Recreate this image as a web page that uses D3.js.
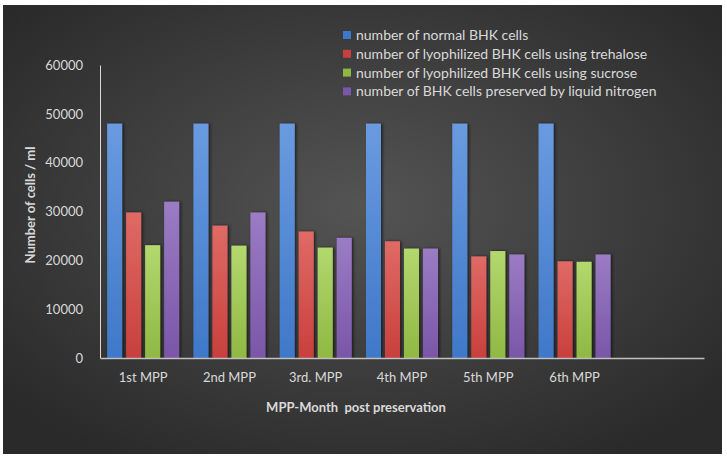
<!DOCTYPE html>
<html>
<head>
<meta charset="utf-8">
<script src="https://cdn.jsdelivr.net/npm/d3@7"></script>
<style>
  body { margin: 0; background: #fff; }
  svg { display: block; }
</style>
</head>
<body>
<svg width="727" height="457"></svg>
<script>
var categories = ["1st MPP", "2nd MPP", "3rd. MPP", "4th MPP", "5th MPP", "6th MPP", ""];
var seriesNames = [
  "number of normal BHK cells",
  "number of lyophilized BHK cells using trehalose",
  "number of lyophilized BHK cells using sucrose",
  "number of BHK cells preserved by liquid nitrogen"
];
var normal = [48000, 48000, 48000, 48000, 48000, 48000];
var trehalose = [29800, 27100, 25900, 23900, 20800, 19800];
var sucrose = [23100, 23000, 22600, 22400, 21900, 19700];
var nitrogen = [32000, 29800, 24600, 22400, 21200, 21200];
var yTicks = [0, 10000, 20000, 30000, 40000, 50000, 60000];

var seriesValues = [normal, trehalose, sucrose, nitrogen];
var colorsTop = ["#6a9be0", "#e06a66", "#b3d86e", "#9a7cc4"];
var colorsBottom = ["#3f78c8", "#c8403c", "#8fb843", "#7a56a8"];

var svg = d3.select("svg"),
    width = +svg.attr("width"),
    height = +svg.attr("height");

var defs = svg.append("defs");

// background gradient
var bg = defs.append("radialGradient")
    .attr("id", "bg")
    .attr("cx", "50%").attr("cy", "45%").attr("r", "65%");
bg.append("stop").attr("offset", "0%").attr("stop-color", "#545454");
bg.append("stop").attr("offset", "100%").attr("stop-color", "#2a2a2a");

seriesValues.forEach(function(s, i) {
  var g = defs.append("linearGradient")
      .attr("id", "bar" + i)
      .attr("x1", 0).attr("y1", 0).attr("x2", 0).attr("y2", 1);
  g.append("stop").attr("offset", "0%").attr("stop-color", colorsTop[i]);
  g.append("stop").attr("offset", "100%").attr("stop-color", colorsBottom[i]);
});

var shadow = defs.append("filter").attr("id", "shadow")
    .attr("x", "-30%").attr("y", "-10%").attr("width", "160%").attr("height", "120%");
shadow.append("feDropShadow")
    .attr("dx", 1.5).attr("dy", 0).attr("stdDeviation", 1.5)
    .attr("flood-color", "#000").attr("flood-opacity", 0.6);

svg.append("rect")
    .attr("x", 3).attr("y", 5)
    .attr("width", 719).attr("height", 449)
    .attr("fill", "url(#bg)");

var margin = {left: 100, right: 23, top: 65, bottom: 99};

var x0 = d3.scaleBand()
    .domain(categories)
    .range([margin.left, width - margin.right])
    .padding(0);

var x1 = d3.scaleBand()
    .domain(d3.range(seriesNames.length))
    .range([0, x0.bandwidth()])
    .paddingInner(0.21)
    .paddingOuter(0.375);

var y = d3.scaleLinear()
    .domain([0, 60000])
    .range([height - margin.bottom, margin.top]);

// bars
var groups = svg.append("g")
    .selectAll("g")
    .data(categories.slice(0, normal.length))
    .enter().append("g")
      .attr("transform", function(d) { return "translate(" + x0(d) + ",0)"; });

groups.selectAll("rect")
    .data(function(d, ci) {
      return seriesValues.map(function(s, si) { return {si: si, v: s[ci]}; });
    })
    .enter().append("rect")
      .attr("x", function(d) { return x1(d.si); })
      .attr("y", function(d) { return y(d.v); })
      .attr("width", x1.bandwidth())
      .attr("height", function(d) { return y(0) - y(d.v); })
      .attr("fill", function(d) { return "url(#bar" + d.si + ")"; })
      .attr("filter", "url(#shadow)");

// y axis
var yAxis = svg.append("g")
    .attr("transform", "translate(" + margin.left + ",0)")
    .call(d3.axisLeft(y).tickValues(yTicks).tickSize(0).tickPadding(17).tickFormat(d3.format("d")));
yAxis.select(".domain").attr("stroke", "#d9d9d9").attr("stroke-width", 1);
yAxis.selectAll("text")
    .attr("fill", "#d9d9d9")
    .style("font-family", "Lato, 'Open Sans', sans-serif")
    .style("font-size", "13px");

// x axis
var xAxis = svg.append("g")
    .attr("transform", "translate(0," + y(0) + ")")
    .call(d3.axisBottom(x0).tickSize(0).tickPadding(15));
xAxis.select(".domain").attr("stroke", "#bfbfbf").attr("stroke-width", 1.5);
xAxis.selectAll("text")
    .attr("fill", "#d9d9d9")
    .style("font-family", "Lato, 'Open Sans', sans-serif")
    .style("font-size", "13px");

// axis titles
svg.append("text")
    .attr("transform", "translate(35," + 205 + ") rotate(-90)")
    .attr("text-anchor", "middle")
    .attr("fill", "#d9d9d9")
    .style("font-family", "Lato, 'Open Sans', sans-serif")
    .style("font-size", "13px")
    .style("font-weight", "bold")
    .text("Number of cells / ml");

svg.append("text")
    .attr("x", 356).attr("y", 412)
    .attr("text-anchor", "middle")
    .attr("fill", "#d9d9d9")
    .attr("xml:space", "preserve")
    .style("font-family", "Lato, 'Open Sans', sans-serif")
    .style("font-size", "13px")
    .style("font-weight", "bold")
    .style("white-space", "pre")
    .text("MPP-Month  post preservation");

// legend
var legend = svg.append("g")
    .attr("transform", "translate(343,35)")
    .selectAll("g")
    .data(seriesNames)
    .enter().append("g")
      .attr("transform", function(d, i) { return "translate(0," + (i * 18.8) + ")"; });

legend.append("rect")
    .attr("x", 0).attr("y", -4)
    .attr("width", 8).attr("height", 8)
    .attr("fill", function(d, i) { return colorsBottom[i]; });

legend.append("text")
    .attr("x", 13).attr("y", 5)
    .attr("fill", "#d9d9d9")
    .style("font-family", "Lato, 'Open Sans', sans-serif")
    .style("font-size", "14px")
    .text(function(d) { return d; });
</script>
</body>
</html>
